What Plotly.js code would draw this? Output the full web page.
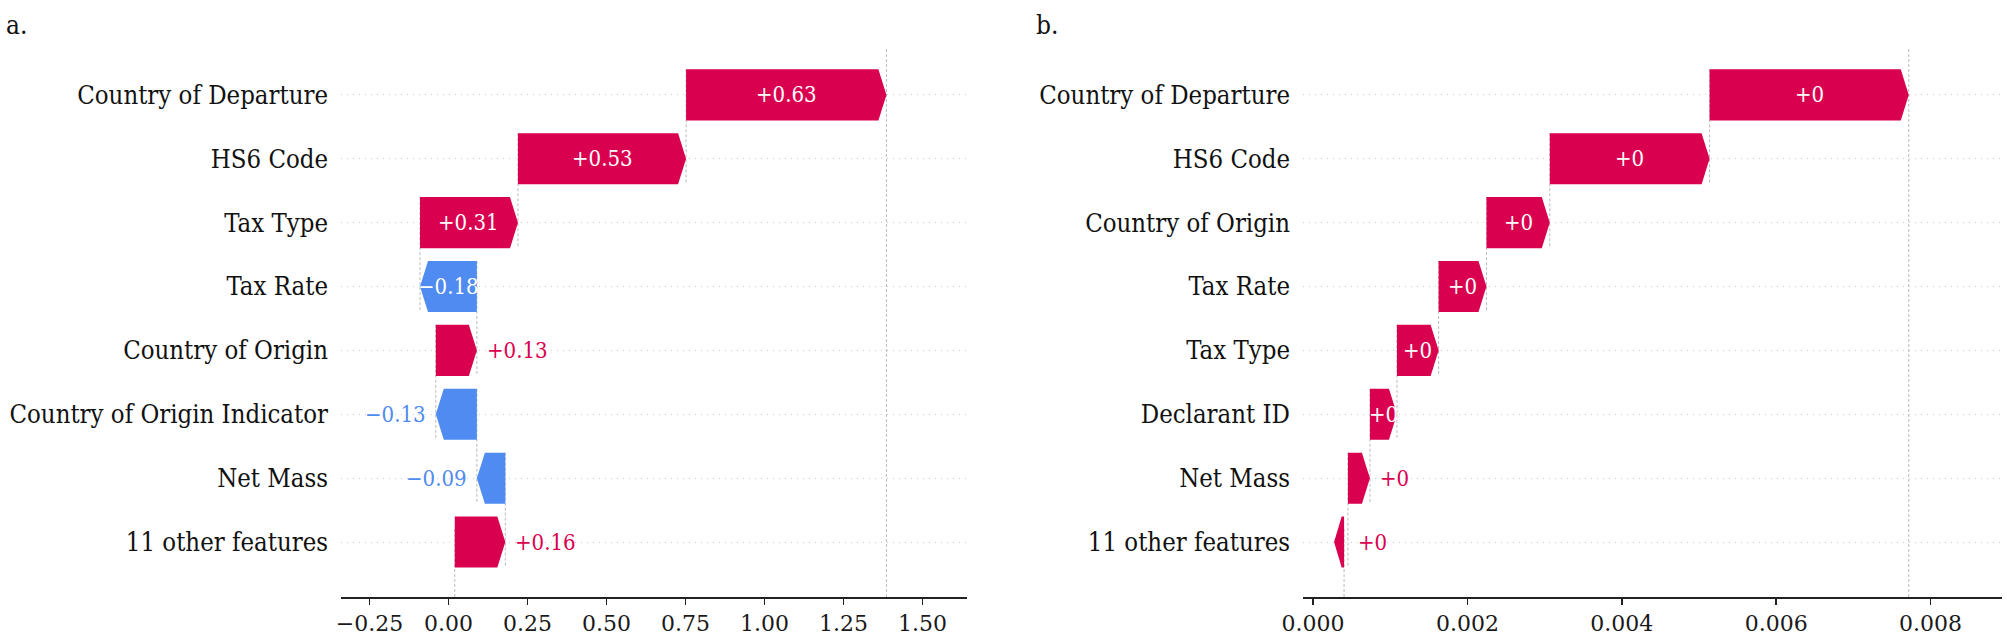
<!DOCTYPE html>
<html>
<head>
<meta charset="utf-8">
<script src="https://cdn.plot.ly/plotly-3.0.1.min.js"></script>
<style>html,body{margin:0;padding:0;background:#fff;}#chart{width:2007px;height:638px;}</style>
</head>
<body>
<div id="chart"></div>
<script>
// ---------- data ----------
const featuresA = ["Country of Departure", "HS6 Code", "Tax Type", "Tax Rate", "Country of Origin", "Country of Origin Indicator", "Net Mass", "11 other features"];
const shapA = [0.634, 0.532, 0.31, -0.18, 0.13, -0.13, -0.09, 0.16];
const baseA = 0.02;

const featuresB = ["Country of Departure", "HS6 Code", "Country of Origin", "Tax Rate", "Tax Type", "Declarant ID", "Net Mass", "11 other features"];
const shapB = [0.00258, 0.00207, 0.00082, 0.00062, 0.00054, 0.00035, 0.000285, 0.00005];
const baseB = 0.000402;

const ticksA = [-0.25, 0, 0.25, 0.5, 0.75, 1.0, 1.25, 1.5];
const tickTextA = ["\u22120.25", "0.00", "0.25", "0.50", "0.75", "1.00", "1.25", "1.50"];
const ticksB = [0, 0.002, 0.004, 0.006, 0.008];
const tickTextB = ["0.000", "0.002", "0.004", "0.006", "0.008"];

const panelTitles = ["a.", "b."];

// ---------- style ----------
const W = 2007, H = 638;
const RED = "#d9004f", BLUE = "#4f8bf0";
const FONT = "'DejaVu Serif Condensed', 'DejaVu Serif', serif";
const TICK_FONT = "'DejaVu Serif', serif";
const panels = [
  {feat: featuresA, vals: shapA, base: baseA, ticks: ticksA, tickText: tickTextA,
   px: [341, 967], range: [-0.340, 1.641], xa: "x", ya: "y", titleX: 4},
  {feat: featuresB, vals: shapB, base: baseB, ticks: ticksB, tickText: tickTextB,
   px: [1303, 2002], range: [-0.00013, 0.008925], xa: "x2", ya: "y2", titleX: 1034}
];
const plotTop = 47, plotBottom = 597;
const yRange = [7.86, -0.75];
const HEAD_PX = 8, BAR_H = 0.4;
const BAR_FONT = 22;

function fmt(v) {
  let s = Math.abs(v).toFixed(2).replace(/\.?0+$/, "");
  if (s === "") s = "0";
  return (v >= 0 ? "+" : "\u2212") + s;
}
function textWidth(str, size) {
  let w = 0;
  for (const c of str) {
    if (c === "+" || c === "\u2212") w += 0.838;
    else if (c === ".") w += 0.318;
    else w += 0.636;
  }
  return w * size * 0.9;
}

const traces = [], shapes = [], annotations = [];
const layout = {
  width: W, height: H, margin: {l: 0, r: 0, t: plotTop, b: H - plotBottom},
  paper_bgcolor: "#fff", plot_bgcolor: "rgba(0,0,0,0)", showlegend: false,
  font: {family: FONT, color: "#1a1a1a"}
};

panels.forEach((p, pi) => {
  const n = p.feat.length;
  const pxPerUnit = (p.px[1] - p.px[0]) / (p.range[1] - p.range[0]);
  const hl = HEAD_PX / pxPerUnit;
  const fx = p.base + p.vals.reduce((a, b) => a + b, 0);
  const xk = pi === 0 ? "xaxis" : "xaxis2";
  const yk = pi === 0 ? "yaxis" : "yaxis2";
  const xref = p.xa, yref = p.ya;

  layout[xk] = {
    domain: [p.px[0] / W, p.px[1] / W], range: p.range, anchor: yref,
    tickvals: p.ticks, ticktext: p.tickText, ticks: "outside", ticklen: 6, tickwidth: 1.5,
    tickcolor: "#222", showline: true, linecolor: "#222", linewidth: 2,
    showgrid: false, zeroline: false, tickfont: {family: TICK_FONT, size: 22, color: "#1a1a1a"},
    fixedrange: true
  };
  layout[yk] = {
    domain: [0, 1], range: yRange, anchor: xref,
    tickvals: p.feat.map((_, i) => i), ticktext: p.feat, ticks: "", ticklabelstandoff: 12,
    showgrid: true, gridcolor: "#cccccc", gridwidth: 1, griddash: "1px,5px",
    zeroline: false, showline: false, tickfont: {family: FONT, size: 25.5, color: "#111"},
    fixedrange: true
  };

  // f(x) line and base line
  shapes.push({type: "line", xref: xref, yref: yref + " domain", x0: fx, x1: fx, y0: 0, y1: 1,
    line: {color: "#bbbbbb", width: 1, dash: "3px,2px"}, layer: "below"});
  shapes.push({type: "line", xref: xref, yref: yref + " domain", x0: p.base, x1: p.base, y0: 0, y1: 1 / n,
    line: {color: "#bbbbbb", width: 1, dash: "3px,2px"}, layer: "below"});

  let loc = fx;
  for (let k = 0; k < n; k++) {
    const v = p.vals[k];
    const end = loc;
    const start = loc - v;
    loc = start;
    if (k < n - 1) {
      shapes.push({type: "line", xref: xref, yref: yref, x0: start, x1: start, y0: k - BAR_H, y1: k + 1 + BAR_H,
        line: {color: "#bbbbbb", width: 1, dash: "3px,2px"}, layer: "below"});
    }
    const dist = Math.abs(v);
    let xs;
    if (v >= 0) {
      xs = dist >= hl ? [start, end - hl, end, end - hl, start, start]
                      : [start, start - 0.3 * hl, start - 1.25 * hl, start - 0.3 * hl, start, start];
    } else {
      xs = dist >= hl ? [start, end + hl, end, end + hl, start, start]
                      : [start, start + 0.3 * hl, start + 1.25 * hl, start + 0.3 * hl, start, start];
    }
    const ys = [k - BAR_H, k - BAR_H, k, k + BAR_H, k + BAR_H, k - BAR_H];
    const col = v >= 0 ? RED : BLUE;
    traces.push({type: "scatter", mode: "lines", x: xs, y: ys, xaxis: xref, yaxis: yref,
      fill: "toself", fillcolor: col, line: {width: 0, color: col}, hoverinfo: "skip"});

    const label = fmt(v);
    const tw = textWidth(label, BAR_FONT);
    const barPx = dist * pxPerUnit;
    if (tw <= barPx + 6) {
      annotations.push({xref: xref, yref: yref, x: (start + end) / 2, y: k, text: label, showarrow: false,
        xanchor: "center", yanchor: "middle", font: {family: FONT, size: BAR_FONT, color: "#ffffff"}});
    } else {
      annotations.push({xref: xref, yref: yref, x: v >= 0 ? Math.max(end, start) : end, y: k, text: label,
        showarrow: false, xanchor: v >= 0 ? "left" : "right", xshift: v >= 0 ? 8 : -8,
        yanchor: "middle", font: {family: FONT, size: BAR_FONT, color: col}});
    }
  }

  annotations.push({xref: "paper", yref: "paper", x: p.titleX / W, y: 1 + (plotTop - 25) / (plotBottom - plotTop),
    text: panelTitles[pi], showarrow: false, xanchor: "left", yanchor: "middle",
    font: {family: FONT, size: 26, color: "#111"}});
});

layout.shapes = shapes;
layout.annotations = annotations;
Plotly.newPlot("chart", traces, layout, {displayModeBar: false, staticPlot: true});
</script>
</body>
</html>
